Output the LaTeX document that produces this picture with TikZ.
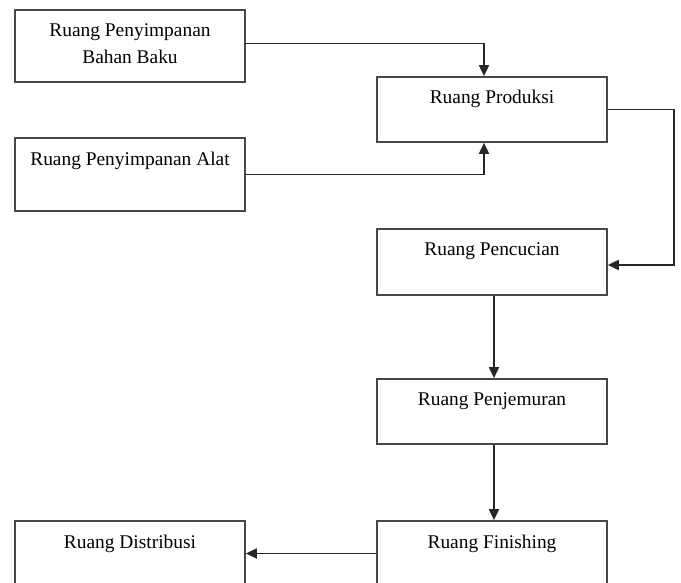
\documentclass[tikz,border=0pt]{standalone}
\usepackage{fontspec}
\setmainfont{Liberation Serif}
\usetikzlibrary{arrows.meta,calc}
\begin{document}
\begin{tikzpicture}[x=1pt,y=-1pt,
  box/.style={draw=black!72,line width=1.7pt,minimum width=230pt,inner sep=0pt},
  lab/.style={anchor=north,inner sep=0pt,align=center,font=\fontsize{19.4}{26.5}\selectfont},
  conn/.style={draw=black!85,line width=1.8pt,-{Triangle[length=11pt,width=10pt]}}]
\clip (0,0) rectangle (681,583);
\fill[white] (0,0) rectangle (681,583);
\node[box,minimum height=72.5pt] (a) at (130,46) {};
\node[box,minimum height=73pt] (c) at (130,174.5) {};
\node[box,minimum height=65pt] (b) at (492,109.5) {};
\node[box,minimum height=66pt] (d) at (492,262) {};
\node[box,minimum height=65pt] (e) at (492,411.5) {};
\node[box,minimum height=65pt] (f) at (492,553.5) {};
\node[box,minimum height=65pt] (g) at (130,553.5) {};
\node[lab] (la) at ($(a.north)+(0,15)$) {Ruang Penyimpanan\\Bahan Baku};
\node[lab] (lc) at ($(c.north)+(0,14.5)$) {Ruang Penyimpanan Alat};
\node[lab] (lb) at ($(b.north)+(0,14)$) {Ruang Produksi};
\node[lab] (ld) at ($(d.north)+(0,14.5)$) {Ruang Pencucian};
\node[lab] (le) at ($(e.north)+(0,14.5)$) {Ruang Penjemuran};
\node[lab] (lf) at ($(f.north)+(0,14.5)$) {Ruang Finishing};
\node[lab] (lg) at ($(g.north)+(0,14.5)$) {Ruang Distribusi};
\draw[conn] ([yshift=2.5pt]a.east) -| ([xshift=-8pt]b.north);
\draw[conn] (c.east) -| ([xshift=-8pt]b.south);
\draw[conn] (b.east) -- ++(66,0) |- ([yshift=-3pt]d.east);
\draw[conn] ([xshift=2pt]d.south) -- ([xshift=2pt]e.north);
\draw[conn] ([xshift=2pt]e.south) -- ([xshift=2pt]f.north);
\draw[conn] (f.west) -- (g.east);
\end{tikzpicture}
\end{document}
